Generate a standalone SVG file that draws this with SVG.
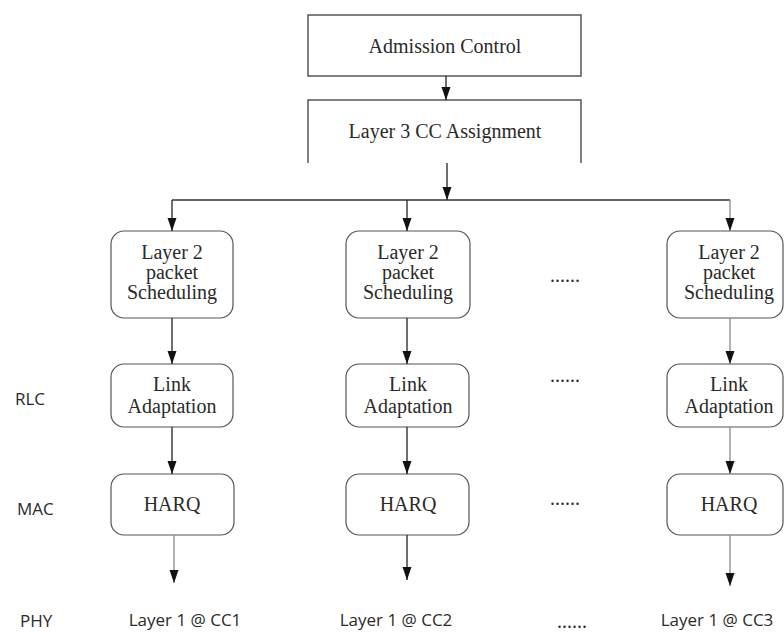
<svg xmlns="http://www.w3.org/2000/svg" width="784" height="632" viewBox="0 0 784 632">
<style>
.bg{fill:#fff}
.sq{fill:#fff;stroke:#555;stroke-width:1.5}
.rb{fill:#fff;stroke:#555;stroke-width:1.2}
.t{font-family:"Liberation Serif","Times New Roman",serif;font-size:20px;fill:#2a2a2a;text-anchor:middle}
.s{font-family:"Open Sans","Liberation Sans",sans-serif;font-size:17px;fill:#2a2a2a}
.c{stroke:#222;stroke-width:1.3;fill:none;marker-end:url(#ah)}
.g{stroke:#888;stroke-width:1.3;fill:none;marker-end:url(#ah)}
.l{stroke:#333;stroke-width:1.3;fill:none}
</style>
<defs>
<marker id="ah" markerUnits="userSpaceOnUse" markerWidth="14" markerHeight="10" refX="13" refY="4.5" orient="auto">
<path d="M0,0 L13,4.5 L0,9 Z" fill="#111"/>
</marker>
</defs>
<rect class="bg" x="0" y="0" width="784" height="632"/>

<g id="admission">
<rect class="sq" x="308" y="15" width="273" height="61"/>
<text class="t" x="445" y="53">Admission Control</text>
</g>
<g id="cc-assignment">
<path class="sq" d="M308,163 L308,100 L581,100 L581,163" fill="none"/>
<text class="t" x="445" y="138">Layer 3 CC Assignment</text>
</g>

<g id="sched1"><rect class="rb" x="111" y="231" width="122" height="87" rx="13"/>
<text class="t" x="172" y="259">Layer 2</text><text class="t" x="172" y="279">packet</text><text class="t" x="172" y="299">Scheduling</text></g>
<g id="sched2"><rect class="rb" x="346" y="231" width="124" height="87" rx="13"/>
<text class="t" x="408" y="259">Layer 2</text><text class="t" x="408" y="279">packet</text><text class="t" x="408" y="299">Scheduling</text></g>
<g id="sched3"><rect class="rb" x="667" y="231" width="116" height="87" rx="13"/>
<text class="t" x="729" y="259">Layer 2</text><text class="t" x="729" y="279">packet</text><text class="t" x="729" y="299">Scheduling</text></g>

<g id="link1"><rect class="rb" x="111" y="364" width="122" height="63" rx="13"/>
<text class="t" x="172" y="391">Link</text><text class="t" x="172" y="413">Adaptation</text></g>
<g id="link2"><rect class="rb" x="346" y="364" width="123" height="63" rx="13"/>
<text class="t" x="408" y="391">Link</text><text class="t" x="408" y="413">Adaptation</text></g>
<g id="link3"><rect class="rb" x="667" y="364" width="116" height="63" rx="13"/>
<text class="t" x="729" y="391">Link</text><text class="t" x="729" y="413">Adaptation</text></g>

<g id="harq1"><rect class="rb" x="111" y="474" width="123" height="61" rx="13"/>
<text class="t" x="172" y="511">HARQ</text></g>
<g id="harq2"><rect class="rb" x="346" y="474" width="123" height="61" rx="13"/>
<text class="t" x="408" y="511">HARQ</text></g>
<g id="harq3"><rect class="rb" x="667" y="474" width="116" height="61" rx="13"/>
<text class="t" x="729" y="511">HARQ</text></g>

<g id="connectors">
<path class="c" d="M446,76 L446,100"/>
<path class="c" d="M447,163 L447,200"/>
<path class="l" d="M172,200 L730,200"/>
<path class="c" d="M172,200 L172,231"/>
<path class="c" d="M407,200 L407,231"/>
<path class="g" d="M730,200 L730,231"/>
<path class="c" d="M172,318 L172,364"/>
<path class="c" d="M407,318 L407,364"/>
<path class="g" d="M730,318 L730,364"/>
<path class="c" d="M172,427 L172,474"/>
<path class="c" d="M407,427 L407,474"/>
<path class="g" d="M730,427 L730,474"/>
<path class="g" d="M174,535 L174,583"/>
<path class="c" d="M407,535 L407,580"/>
<path class="g" d="M730,535 L730,586"/>
</g>

<g id="dots">
<text class="t" x="565" y="282">......</text>
<text class="t" x="565" y="382">......</text>
<text class="t" x="565" y="505">......</text>
<text class="t" x="572" y="628">......</text>
</g>

<g id="labels">
<text class="s" x="15" y="405">RLC</text>
<text class="s" x="17" y="515">MAC</text>
<text class="s" x="20" y="627">PHY</text>
<text class="s" x="185" y="626" text-anchor="middle">Layer 1 @ CC1</text>
<text class="s" x="396" y="626" text-anchor="middle">Layer 1 @ CC2</text>
<text class="s" x="717" y="626" text-anchor="middle">Layer 1 @ CC3</text>
</g>
</svg>
